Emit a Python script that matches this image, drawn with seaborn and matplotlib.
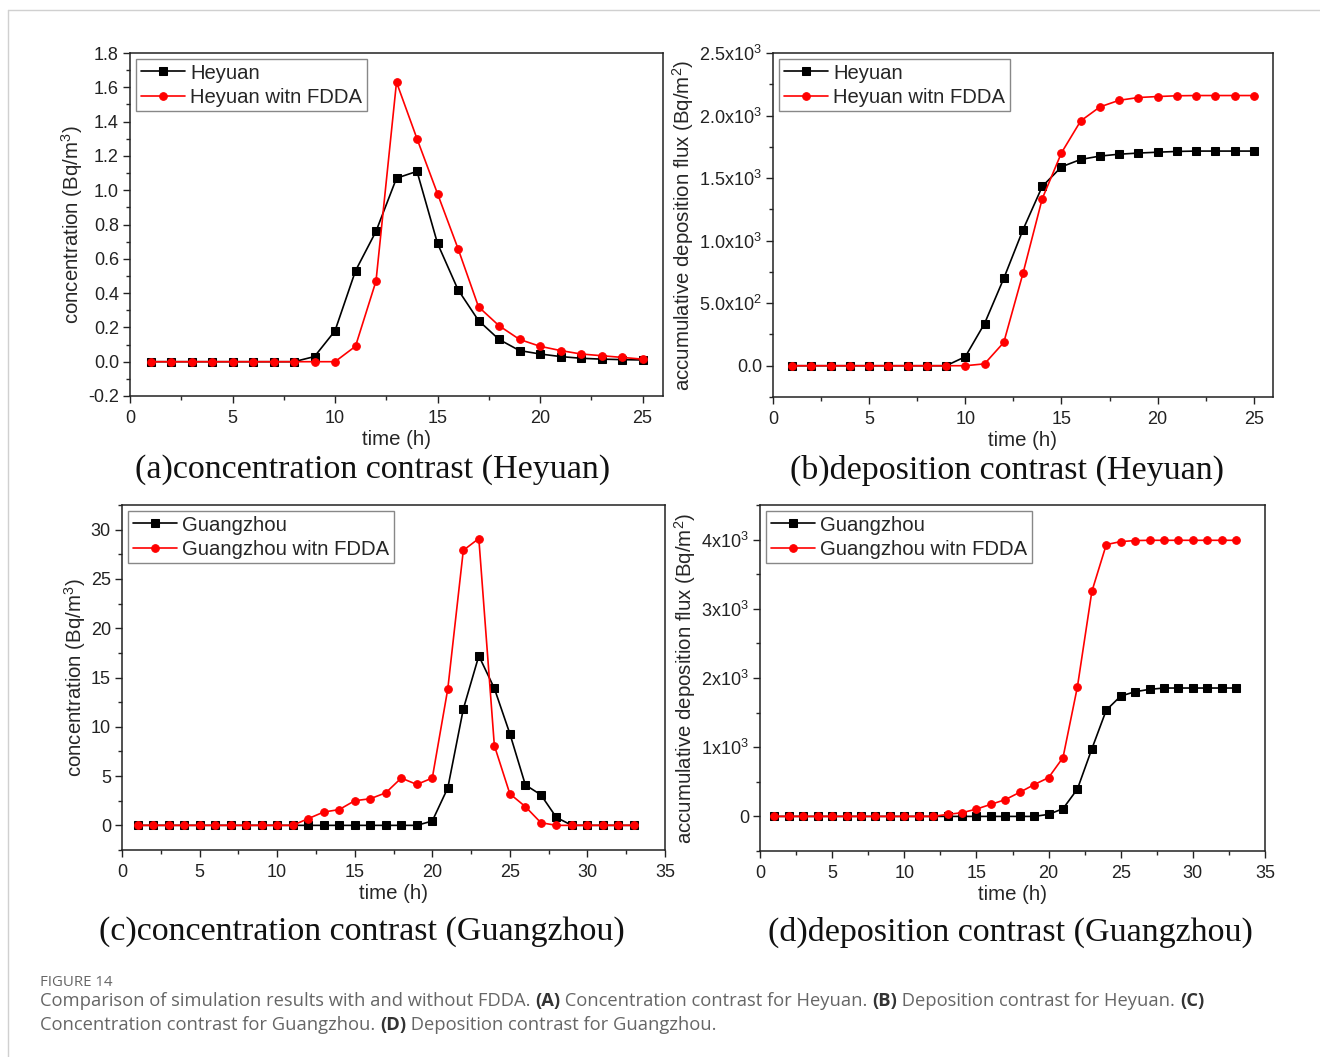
import numpy as np
import pandas as pd
import seaborn as sns
import matplotlib.pyplot as plt
from matplotlib.ticker import MultipleLocator, FuncFormatter
from matplotlib.lines import Line2D

# ---- data ----
hours_hy = list(range(1, 26))
conc_hy = [0, 0, 0, 0, 0, 0, 0, 0, 0.03, 0.18, 0.53, 0.76, 1.07, 1.11, 0.69,
           0.42, 0.24, 0.13, 0.065, 0.045, 0.03, 0.02, 0.015, 0.012, 0.01]
conc_hy_fdda = [0, 0, 0, 0, 0, 0, 0, 0, 0, 0, 0.09, 0.47, 1.63, 1.30, 0.98,
                0.66, 0.32, 0.21, 0.13, 0.09, 0.065, 0.045, 0.035, 0.025, 0.015]
dep_hy = [0, 0, 0, 0, 0, 0, 0, 0, 0, 72, 337, 698, 1087, 1433, 1590,
          1649, 1676, 1691, 1700, 1707, 1713, 1716, 1716, 1716, 1716]
dep_hy_fdda = [0, 0, 0, 0, 0, 0, 0, 0, 0, 0, 15, 186, 739, 1335, 1702,
               1957, 2069, 2122, 2144, 2152, 2158, 2160, 2160, 2160, 2160]

hours_gz = list(range(1, 34))
conc_gz = [0] * 19 + [0.44, 3.8, 11.8, 17.2, 13.9, 9.3, 4.1, 3.1, 0.8,
                      0, 0, 0, 0, 0]
conc_gz_fdda = [0] * 11 + [0.68, 1.35, 1.6, 2.5, 2.7, 3.3, 4.8, 4.15, 4.8,
                           13.85, 27.9, 29.1, 8.1, 3.2, 1.9, 0.27,
                           0, 0, 0, 0, 0, 0]
dep_gz = [0] * 19 + [29, 111, 396, 976, 1536, 1739, 1802, 1836, 1855,
                     1855, 1855, 1855, 1855, 1855]
dep_gz_fdda = [0] * 12 + [29, 53, 106, 174, 242, 348, 459, 560, 850, 1874,
                          3251, 3928, 3971, 3986, 3990, 3990, 3990, 3990,
                          3990, 3990, 3990]

sns.set_style('ticks')
plt.rcParams['font.family'] = ['Liberation Sans', 'DejaVu Sans']
plt.rcParams['mathtext.fontset'] = 'custom'
plt.rcParams['mathtext.rm'] = 'Liberation Sans'
plt.rcParams['mathtext.it'] = 'Liberation Sans:italic'
plt.rcParams['axes.unicode_minus'] = False
plt.rcParams['xtick.direction'] = 'out'
plt.rcParams['ytick.direction'] = 'out'

W, H = 1320, 1057
fig = plt.figure(figsize=(W / 100, H / 100), dpi=100)


def box(l, t, r, b):
    return [l / W, 1 - b / H, (r - l) / W, (b - t) / H]


def sci(dec):
    def f(v, pos):
        if abs(v) < 1e-9:
            return '0.0' if dec else '0'
        e = int(np.floor(np.log10(abs(v))))
        m = v / 10 ** e
        return (f'{m:.1f}' if dec else f'{m:.0f}') + 'x10$^{%d}$' % e
    return FuncFormatter(f)


def panel(rect, x, y1, y2, labels, ylabel, xlim, ylim, ymaj, ymin, fmt=None):
    ax = fig.add_axes(rect)
    sns.lineplot(x=x, y=y1, ax=ax, color='black', marker='s', markersize=5.5,
                 markeredgecolor='black', linewidth=1.2, label=labels[0])
    sns.lineplot(x=x, y=y2, ax=ax, color='#ff0000', marker='o', markersize=5.5,
                 markeredgecolor='#ff0000', linewidth=1.2, label=labels[1])
    ax.set_xlim(*xlim)
    ax.set_ylim(*ylim)
    ax.xaxis.set_major_locator(MultipleLocator(5))
    ax.xaxis.set_minor_locator(MultipleLocator(2.5))
    ax.yaxis.set_major_locator(MultipleLocator(ymaj))
    ax.yaxis.set_minor_locator(MultipleLocator(ymin))
    if fmt is not None:
        ax.yaxis.set_major_formatter(fmt)
    ax.tick_params(which='major', length=5, width=1, labelsize=13,
                   colors='#222222', pad=3)
    ax.tick_params(axis='x', which='major', pad=5)
    ax.tick_params(which='minor', length=3, width=1)
    for s in ax.spines.values():
        s.set_linewidth(1.1)
        s.set_color('#222222')
    ax.set_xlabel('time (h)', fontsize=14.7, labelpad=2)
    ax.set_ylabel(ylabel, fontsize=14.7, labelpad=2)
    leg = ax.legend(loc='upper left', fontsize=14.6, frameon=True,
                    fancybox=False, edgecolor='#888888', framealpha=1,
                    borderpad=0.22, handlelength=2.2, handletextpad=0.25,
                    labelspacing=0.25, borderaxespad=0.3)
    leg.get_frame().set_linewidth(1)
    return ax


panel(box(130, 53, 663, 396), hours_hy, conc_hy, conc_hy_fdda,
      ['Heyuan', 'Heyuan witn FDDA'], 'concentration (Bq/m$^3$)',
      (0, 26), (-0.2, 1.8), 0.2, 0.1)
panel(box(773, 53, 1273, 397), hours_hy, dep_hy, dep_hy_fdda,
      ['Heyuan', 'Heyuan witn FDDA'], 'accumulative deposition flux (Bq/m$^2$)',
      (0, 26), (-250, 2500), 500, 250, sci(True))
panel(box(122, 505, 665, 850), hours_gz, conc_gz, conc_gz_fdda,
      ['Guangzhou', 'Guangzhou witn FDDA'], 'concentration (Bq/m$^3$)',
      (0, 35), (-2.5, 32.5), 5, 2.5)
panel(box(760, 505, 1265, 851), hours_gz, dep_gz, dep_gz_fdda,
      ['Guangzhou', 'Guangzhou witn FDDA'], 'accumulative deposition flux (Bq/m$^2$)',
      (0, 35), (-500, 4500), 1000, 500, sci(False))

# panel captions
cap = dict(fontsize=24.5, family='Liberation Serif', color='#111111',
           ha='center', va='center')
fig.text(373 / W, 1 - 470 / H, '(a)concentration contrast (Heyuan)', **cap)
fig.text(1007 / W, 1 - 470 / H, '(b)deposition contrast (Heyuan)', **cap)
fig.text(362 / W, 1 - 932 / H, '(c)concentration contrast (Guangzhou)', **cap)
fig.text(1010 / W, 1 - 932 / H, '(d)deposition contrast (Guangzhou)', **cap)

# page border
fig.add_artist(Line2D([8 / W, 1], [1 - 10 / H, 1 - 10 / H], color='#d0d0d0', lw=1))
fig.add_artist(Line2D([8 / W, 8 / W], [0, 1 - 10 / H], color='#d0d0d0', lw=1))

# figure caption
fig.text(40 / W, 1 - 983 / H, 'FIGURE 14', fontsize=10.8, family='Open Sans',
         color='#666666', va='center')

renderer = fig.canvas.get_renderer()


def caption_line(y, parts):
    x = 40
    for txt, bold in parts:
        t = fig.text(x / W, 1 - y / H, txt, fontsize=13.2, family='Open Sans',
                     color='#333333' if bold else '#666666',
                     fontweight='bold' if bold else 'normal', va='center')
        x += t.get_window_extent(renderer).width


caption_line(1001, [('Comparison of simulation results with and without FDDA. ', False),
                    ('(A)', True), (' Concentration contrast for Heyuan. ', False),
                    ('(B)', True), (' Deposition contrast for Heyuan. ', False),
                    ('(C)', True)])
caption_line(1025, [('Concentration contrast for Guangzhou. ', False),
                    ('(D)', True), (' Deposition contrast for Guangzhou.', False)])

fig.savefig('out.png', dpi=100)
